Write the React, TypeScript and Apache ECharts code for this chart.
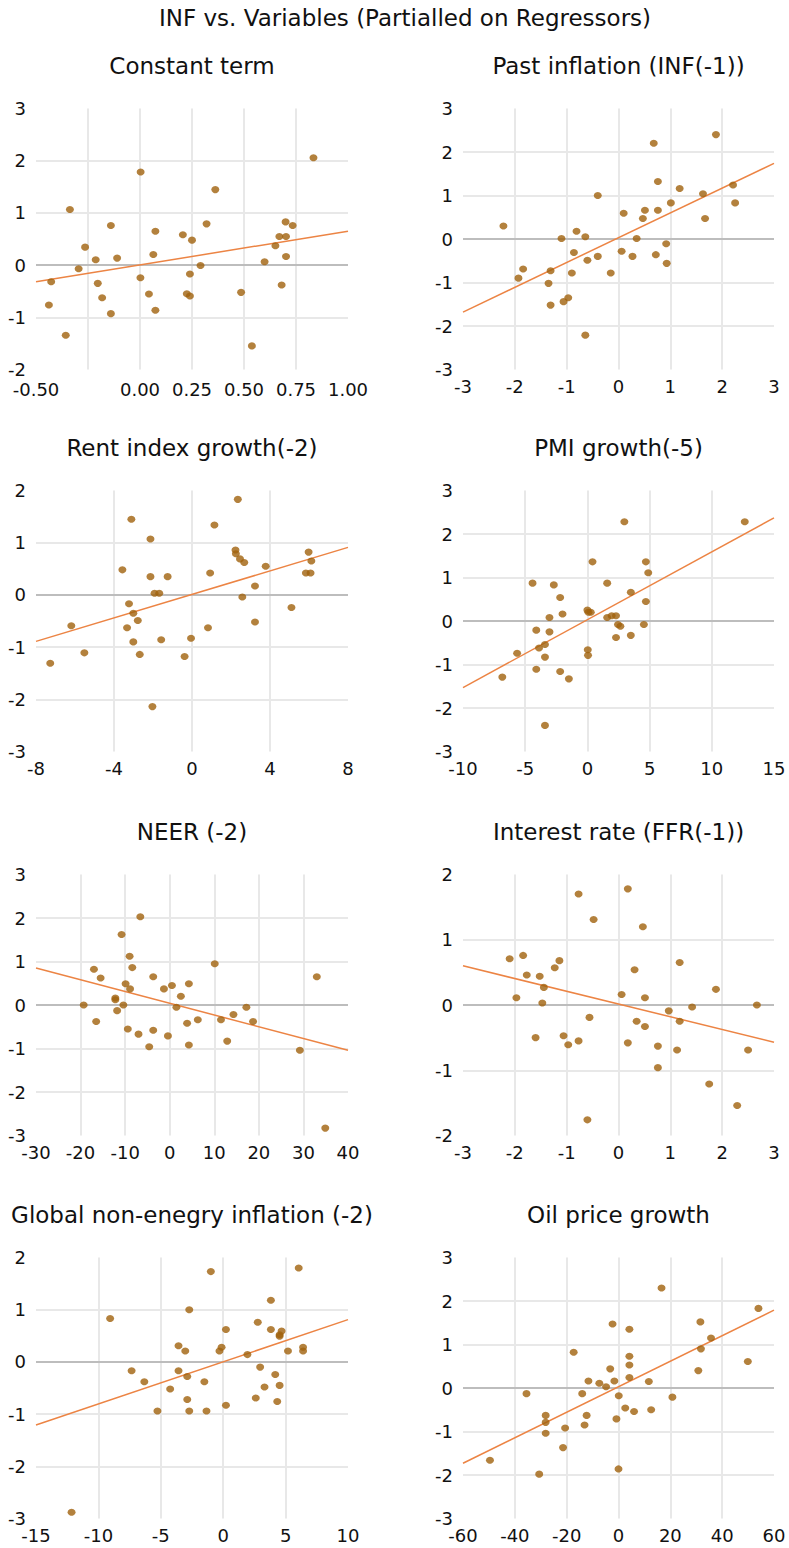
import React, { useEffect, useRef } from 'react';
import * as echarts from 'echarts';

const mainTitle = 'INF vs. Variables (Partialled on Regressors)';
const panelTitles = [
  'Constant term',
  'Past inflation (INF(-1))',
  'Rent index growth(-2)',
  'PMI growth(-5)',
  'NEER (-2)',
  'Interest rate (FFR(-1))',
  'Global non-enegry inflation (-2)',
  'Oil price growth',
];

// [min, max, interval]
const xAxes = [
  [-0.5, 1.0, 0.25],
  [-3, 3, 1],
  [-8, 8, 4],
  [-10, 15, 5],
  [-30, 40, 10],
  [-3, 3, 1],
  [-15, 10, 5],
  [-60, 60, 20],
];
const yAxes = [
  [-2, 3, 1],
  [-3, 3, 1],
  [-3, 2, 1],
  [-3, 3, 1],
  [-3, 3, 1],
  [-2, 2, 1],
  [-3, 2, 1],
  [-3, 3, 1],
];

const constantTerm = [
  [-0.438, -0.764], [-0.427, -0.318], [-0.357, -1.344], [-0.337, 1.064], [-0.295, -0.07],
  [-0.264, 0.344], [-0.213, 0.102], [-0.203, -0.35], [-0.182, -0.624], [-0.14, 0.758],
  [-0.14, -0.93], [-0.11, 0.134], [0.003, 1.783], [0.002, -0.242], [0.043, -0.554],
  [0.064, 0.204], [0.074, 0.65], [0.074, -0.866], [0.206, 0.58], [0.225, -0.548],
  [0.24, -0.592], [0.24, -0.172], [0.25, 0.478], [0.291, -0.006], [0.32, 0.79],
  [0.362, 1.446], [0.486, -0.522], [0.538, -1.548], [0.599, 0.064], [0.651, 0.369],
  [0.67, 0.548], [0.681, -0.382], [0.7, 0.828], [0.702, 0.548], [0.702, 0.166],
  [0.734, 0.758], [0.834, 2.057],
];
const pastInflation = [
  [-2.22, 0.3], [-1.93, -0.9], [-1.84, -0.69], [-1.35, -1.02], [-1.31, -0.73],
  [-1.31, -1.52], [-1.1, 0.01], [-1.06, -1.44], [-0.97, -1.35], [-0.9, -0.78],
  [-0.86, -0.31], [-0.81, 0.18], [-0.64, 0.05], [-0.64, -2.21], [-0.6, -0.49],
  [-0.4, 1.0], [-0.4, -0.4], [-0.15, -0.78], [0.06, -0.28], [0.1, 0.59],
  [0.27, -0.4], [0.35, 0.01], [0.47, 0.47], [0.51, 0.66], [0.68, 2.2],
  [0.72, -0.36], [0.76, 1.32], [0.76, 0.66], [0.92, -0.11], [0.93, -0.56],
  [1.01, 0.83], [1.18, 1.16], [1.63, 1.04], [1.67, 0.47], [1.88, 2.4],
  [2.21, 1.24], [2.25, 0.83],
];
const rentIndex = [
  [-7.27, -1.31], [-6.19, -0.59], [-5.52, -1.11], [-3.57, 0.48], [-3.33, -0.63],
  [-3.23, -0.17], [-3.11, 1.45], [-3.01, -0.35], [-3.01, -0.9], [-2.78, -0.49],
  [-2.68, -1.14], [-2.13, 1.07], [-2.13, 0.35], [-2.03, -2.14], [-1.92, 0.03],
  [-1.68, 0.03], [-1.58, -0.86], [-1.25, 0.35], [-0.38, -1.18], [-0.05, -0.83],
  [0.82, -0.63], [0.93, 0.42], [1.15, 1.34], [2.23, 0.86], [2.25, 0.79],
  [2.35, 1.83], [2.46, 0.69], [2.58, -0.04], [2.68, 0.62], [3.23, 0.17],
  [3.23, -0.52], [3.78, 0.55], [5.1, -0.24], [5.84, 0.42], [5.98, 0.82],
  [6.08, 0.42], [6.12, 0.65],
];
const pmiGrowth = [
  [-6.84, -1.29], [-5.65, -0.74], [-4.41, 0.87], [-4.11, -0.21], [-4.11, -1.11],
  [-3.89, -0.62], [-3.41, -0.54], [-3.41, -0.83], [-3.41, -2.4], [-3.05, 0.08],
  [-3.05, -0.25], [-2.7, 0.83], [-2.19, 0.54], [-2.19, -1.16], [-2.0, 0.16],
  [-1.49, -1.33], [0.0, 0.25], [0.08, 0.2], [0.27, 0.2], [0.03, -0.66],
  [0.05, -0.79], [0.41, 1.36], [1.59, 0.87], [1.59, 0.08], [1.95, 0.12],
  [2.3, 0.12], [2.3, -0.38], [2.46, -0.08], [2.65, -0.12], [2.97, 2.28],
  [3.49, 0.66], [3.49, -0.33], [4.54, -0.08], [4.7, 1.36], [4.7, 0.45],
  [4.89, 1.11], [12.65, 2.28],
];
const neer = [
  [-19.3, 0.0], [-17.0, 0.82], [-16.5, -0.38], [-15.5, 0.62], [-12.2, 0.16],
  [-12.2, 0.12], [-11.8, -0.13], [-10.8, 1.62], [-10.4, 0.0], [-9.9, 0.49],
  [-9.4, -0.55], [-9.0, 1.12], [-8.9, 0.37], [-8.4, 0.86], [-7.0, -0.67],
  [-6.6, 2.03], [-4.6, -0.96], [-3.7, 0.65], [-3.7, -0.58], [-1.3, 0.37],
  [-0.4, -0.71], [0.5, 0.45], [1.5, -0.05], [2.5, 0.2], [3.9, -0.42],
  [4.3, -0.92], [4.3, 0.49], [6.3, -0.34], [10.1, 0.95], [11.5, -0.34],
  [12.9, -0.83], [14.3, -0.22], [17.2, -0.05], [18.7, -0.38], [29.2, -1.04],
  [33.0, 0.65], [34.9, -2.83],
];
const interestRate = [
  [-2.1, 0.71], [-1.97, 0.11], [-1.84, 0.76], [-1.77, 0.46], [-1.6, -0.5],
  [-1.52, 0.44], [-1.47, 0.03], [-1.44, 0.27], [-1.23, 0.57], [-1.14, 0.68],
  [-1.06, -0.47], [-0.97, -0.61], [-0.77, 1.7], [-0.77, -0.55], [-0.6, -1.76],
  [-0.56, -0.19], [-0.48, 1.31], [0.06, 0.16], [0.18, 1.78], [0.18, -0.58],
  [0.31, 0.54], [0.35, -0.25], [0.47, 1.2], [0.51, 0.11], [0.51, -0.33],
  [0.76, -0.63], [0.76, -0.96], [0.97, -0.09], [1.13, -0.69], [1.18, 0.65],
  [1.18, -0.25], [1.42, -0.03], [1.75, -1.21], [1.88, 0.24], [2.29, -1.54],
  [2.5, -0.69], [2.67, 0.0],
];
const globalInflation = [
  [-12.15, -2.88], [-9.06, 0.83], [-7.34, -0.17], [-6.32, -0.38], [-5.27, -0.94],
  [-4.25, -0.52], [-3.58, 0.31], [-3.58, -0.17], [-3.04, 0.21], [-2.88, -0.28],
  [-2.88, -0.72], [-2.72, 1.0], [-2.72, -0.94], [-1.51, -0.38], [-1.34, -0.94],
  [-0.99, 1.73], [-0.3, 0.21], [-0.13, 0.28], [0.22, 0.62], [0.22, -0.83],
  [1.94, 0.14], [2.61, -0.69], [2.77, 0.76], [2.96, -0.1], [3.31, -0.48],
  [3.82, 1.18], [3.82, 0.62], [4.17, -0.24], [4.33, -0.76], [4.52, 0.52],
  [4.52, 0.49], [4.52, -0.45], [4.68, 0.59], [5.19, 0.21], [6.05, 1.8],
  [6.4, 0.28], [6.4, 0.21],
];
const oilPrice = [
  [-49.6, -1.66], [-35.5, -0.13], [-30.6, -1.98], [-28.1, -0.63], [-28.1, -0.79],
  [-28.1, -1.04], [-21.4, -1.37], [-20.6, -0.92], [-17.3, 0.82], [-14.0, -0.13],
  [-13.1, -0.85], [-12.3, -0.63], [-11.6, 0.16], [-7.4, 0.11], [-4.8, 0.03],
  [-3.2, 0.44], [-2.3, 1.47], [-1.6, 0.16], [-0.8, -0.71], [0.0, -1.86],
  [0.1, -0.18], [2.6, -0.46], [4.2, 1.35], [4.2, 0.73], [4.2, 0.53],
  [4.2, 0.24], [6.0, -0.54], [11.7, 0.15], [12.6, -0.5], [16.6, 2.3],
  [20.8, -0.21], [30.8, 0.4], [31.6, 1.52], [31.8, 0.9], [35.7, 1.15],
  [49.9, 0.61], [54.0, 1.83],
];

const constantFit = [[-0.5, -0.32], [1.0, 0.65]];
const pastInflationFit = [[-3, -1.68], [3, 1.74]];
const rentIndexFit = [[-8, -0.89], [8, 0.91]];
const pmiGrowthFit = [[-10, -1.53], [15, 2.37]];
const neerFit = [[-30, 0.85], [40, -1.04]];
const interestRateFit = [[-3, 0.6], [3, -0.57]];
const globalInflationFit = [[-15, -1.21], [10, 0.81]];
const oilPriceFit = [[-60, -1.73], [60, 1.79]];

const panelPoints = [constantTerm, pastInflation, rentIndex, pmiGrowth, neer, interestRate, globalInflation, oilPrice];
const panelFits = [constantFit, pastInflationFit, rentIndexFit, pmiGrowthFit, neerFit, interestRateFit, globalInflationFit, oilPriceFit];

const FONT = 'DejaVu Sans';
const colLeft = [36, 463];
const colWidth = [312, 311];
const rowTop = [108.5, 490.5, 874.5, 1257.5];
const rowHeight = 261;
const subtitleGap = 43;

export default function App() {
  const ref = useRef<HTMLDivElement>(null);
  useEffect(() => {
    if (!ref.current) return;
    const chart = echarts.init(ref.current, null, { renderer: 'svg' });
    const grids: any[] = [];
    const xs: any[] = [];
    const ys: any[] = [];
    const series: any[] = [];
    const graphics: any[] = [
      {
        type: 'text',
        x: 405,
        y: 18,
        style: { text: mainTitle, fontFamily: FONT, fontSize: 23, fill: '#111', textAlign: 'center', textVerticalAlign: 'middle' },
      },
    ];
    for (let i = 0; i < 8; i++) {
      const col = i % 2;
      const row = Math.floor(i / 2);
      const left = colLeft[col];
      const top = rowTop[row];
      grids.push({ left, top, width: colWidth[col], height: rowHeight, containLabel: false, outerBoundsMode: 'none' });
      graphics.push({
        type: 'text',
        x: left + colWidth[col] / 2,
        y: top - subtitleGap,
        style: { text: panelTitles[i], fontFamily: FONT, fontSize: 23, fill: '#111', textAlign: 'center', textVerticalAlign: 'middle' },
      });
      const [xmin, xmax, xint] = xAxes[i];
      const [ymin, ymax, yint] = yAxes[i];
      xs.push({
        type: 'value',
        gridIndex: i,
        min: xmin,
        max: xmax,
        interval: xint,
        axisLine: { show: false },
        axisTick: { show: false },
        axisLabel: {
          margin: i === 0 ? 11 : 8,
          fontFamily: FONT,
          fontSize: 18,
          color: '#111',
          formatter: i === 0 ? (v: number) => (Math.abs(v + 0.25) < 1e-9 ? '' : v.toFixed(2)) : (v: number) => String(v),
        },
        splitLine: { show: true, showMinLine: false, showMaxLine: false, lineStyle: { color: '#E8E8E8', width: 2 } },
      });
      ys.push({
        type: 'value',
        gridIndex: i,
        min: ymin,
        max: ymax,
        interval: yint,
        axisLine: { show: false },
        axisTick: { show: false },
        axisLabel: { margin: 10, fontFamily: FONT, fontSize: 18, color: '#111' },
        splitLine: { show: true, showMinLine: false, showMaxLine: false, lineStyle: { color: '#E8E8E8', width: 2 } },
      });
      series.push({
        type: 'line',
        xAxisIndex: i,
        yAxisIndex: i,
        data: panelFits[i],
        symbol: 'none',
        lineStyle: { color: '#EC8444', width: 1.5 },
        z: 3,
        silent: true,
        markLine: {
          silent: true,
          symbol: 'none',
          label: { show: false },
          lineStyle: { color: '#BDBDBD', width: 2, type: 'solid' },
          data: [{ yAxis: 0 }],
          z: 1,
        },
      });
      series.push({
        type: 'scatter',
        xAxisIndex: i,
        yAxisIndex: i,
        data: panelPoints[i],
        symbol: 'circle',
        symbolSize: [8, 7],
        itemStyle: { color: '#A0620C' },
        z: 4,
      });
    }
    chart.setOption({
      animation: false,
      backgroundColor: '#fff',
      grid: grids,
      xAxis: xs,
      yAxis: ys,
      series,
      graphic: graphics,
    });
    return () => chart.dispose();
  }, []);
  return <div ref={ref} style={{ position: 'absolute', left: 0, top: 0, width: 789, height: 1548 }} />;
}
